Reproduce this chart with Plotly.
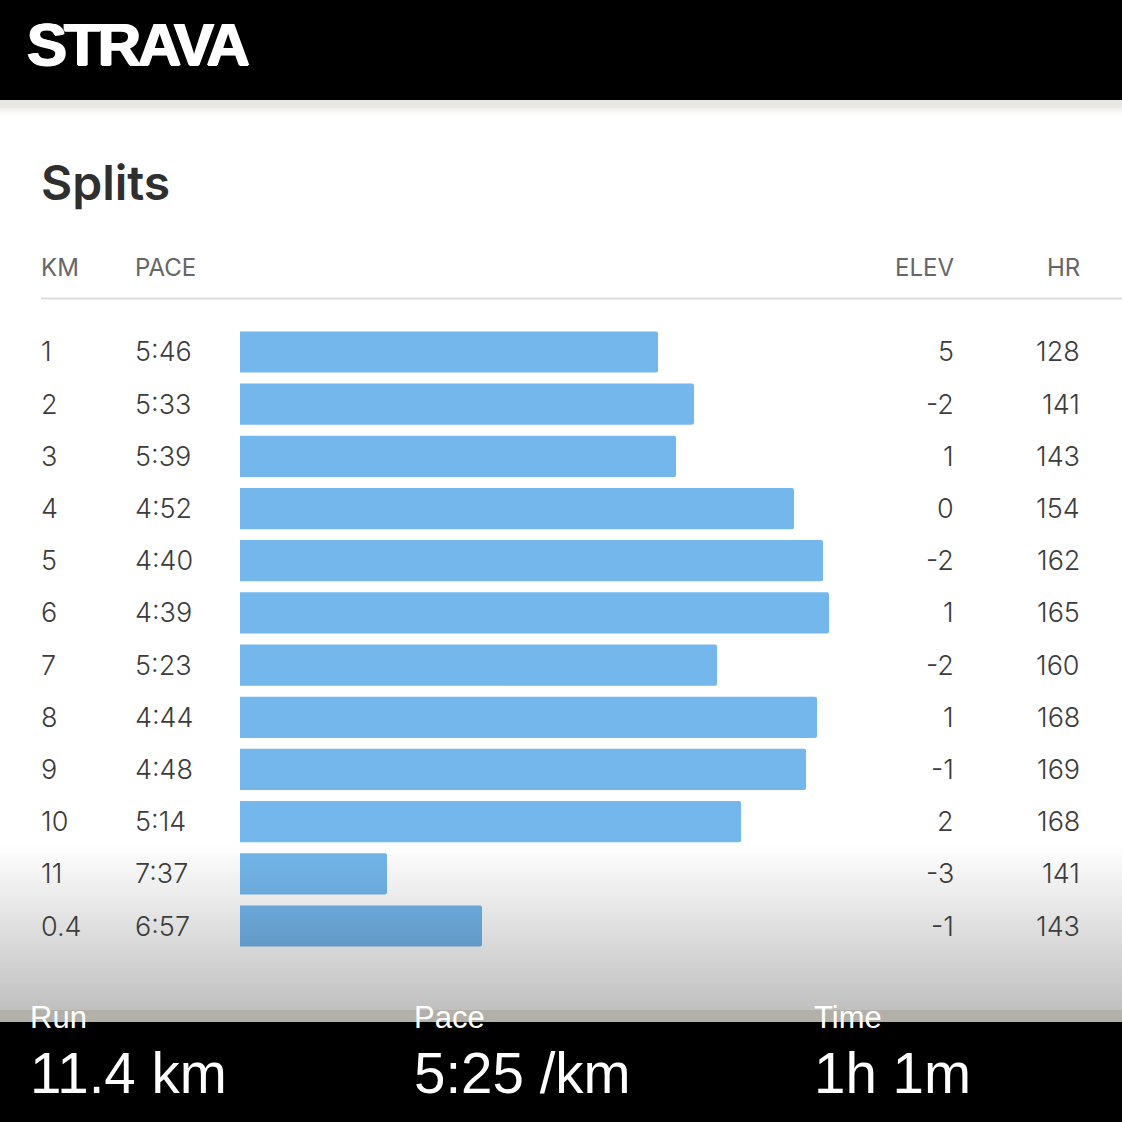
import plotly.graph_objects as go

km_labels = ["1", "2", "3", "4", "5", "6", "7", "8", "9", "10", "11", "0.4"]
pace_labels = ["5:46", "5:33", "5:39", "4:52", "4:40", "4:39", "5:23", "4:44", "4:48", "5:14", "7:37", "6:57"]
bar_lengths = [418, 454, 436, 554, 583, 589, 477, 577, 566, 501, 147, 242]
elev_labels = ["5", "-2", "1", "0", "-2", "1", "-2", "1", "-1", "2", "-3", "-1"]
hr_labels = ["128", "141", "143", "154", "162", "165", "160", "168", "169", "168", "141", "143"]
header_labels = ["KM", "PACE", "ELEV", "HR"]
footer_titles = ["Run", "Pace", "Time"]
footer_values = ["11.4 km", "5:25 /km", "1h 1m"]
logo_text = "STRAVA"

W = 1122
row_ids = list(range(len(km_labels)))


def px(x):
    return x / W


def py(y):
    return 1 - y / W


fig = go.Figure(
    go.Bar(
        x=bar_lengths,
        y=row_ids,
        orientation="h",
        marker=dict(color="#74b7ec", line_width=0, cornerradius=2),
        width=0.79,
        hoverinfo="skip",
    )
)
fig.add_trace(go.Scatter(
    x=[27], y=[50], xaxis="x2", yaxis="y2", mode="text",
    text=['<span style="letter-spacing:-3px">' + logo_text + "</span>"],
    textposition="middle right", cliponaxis=False, hoverinfo="skip",
    textfont=dict(family="Liberation Sans", size=60, color="#ffffff", weight=700,
                  shadow="1px 0 0 #ffffff, -1px 0 0 #ffffff, 0 1px 0 #ffffff"),
))

shapes = []


def rect(y0, y1, color, opacity=1.0, layer="below"):
    shapes.append(dict(type="rect", xref="paper", yref="paper", x0=0, x1=1, y0=py(y1), y1=py(y0),
                       fillcolor=color, opacity=opacity, line_width=0, layer=layer))


rect(0, 100, "#000000")
rect(100, 108, "#e9e7e4")
for y in range(108, 116):
    rect(y, y + 1, "#e9e7e4", opacity=(116 - y) / 12)
shapes.append(dict(type="line", xref="paper", yref="paper", x0=px(41), x1=1, y0=py(298.5), y1=py(298.5),
                   line=dict(color="#dcdcdc", width=2), layer="below"))
for y in range(842, 1010, 3):
    a = (y - 842) / (1010 - 842)
    rect(y, y + 3, "#000000", opacity=0.25 * a, layer="above")
rect(1010, 1022, "#b3b0aa")
rect(1022, 1122, "#000000")

ann = []


def text(s, x, y, size, color, anchor="left", font="Inter", yref="paper", weight=400):
    x = x - 3 if anchor == "left" else x + 2
    ann.append(dict(text=s, x=px(x), y=y if yref == "y" else py(y), xref="paper", yref=yref,
                    xanchor=anchor, yanchor="middle", showarrow=False,
                    font=dict(family=font, size=size, color=color, weight=weight)))


text("Splits", 42, 183, 48, "#2f2f2f", weight=600)
for s, x, anc in zip(header_labels, [42, 136, 954, 1080], ["left", "left", "right", "right"]):
    text(s, x, 267, 24, "#666666", anchor=anc)
for i in row_ids:
    text(km_labels[i], 42, i, 27, "#3c3c3c", yref="y", weight=300)
    text(pace_labels[i], 136, i, 27, "#3c3c3c", yref="y", weight=300)
    text(elev_labels[i], 954, i, 27, "#3c3c3c", anchor="right", yref="y", weight=300)
    text(hr_labels[i], 1080, i, 27, "#3c3c3c", anchor="right", yref="y", weight=300)
for s, v, x in zip(footer_titles, footer_values, [31, 415, 815]):
    text(s, x, 1017, 31, "#ffffff", font="Liberation Sans")
    text(v, x, 1073, 56.5, "#ffffff", font="Liberation Sans")

fig.update_layout(
    width=W, height=W, autosize=False,
    margin=dict(l=0, r=0, t=0, b=0),
    paper_bgcolor="#ffffff", plot_bgcolor="rgba(0,0,0,0)",
    showlegend=False,
    shapes=shapes, annotations=ann,
    xaxis=dict(domain=[px(240), 1], range=[0, W - 240], visible=False),
    yaxis=dict(domain=[py(952.1), py(325.9)], range=[11.5, -0.5], visible=False),
    xaxis2=dict(domain=[0, 1], range=[0, W], visible=False, anchor="y2"),
    yaxis2=dict(domain=[0, 1], range=[W, 0], visible=False, anchor="x2"),
)
fig.write_html("out.html", config=dict(displayModeBar=False),
               post_script="document.body.style.margin='0';document.documentElement.style.overflow='hidden';")
